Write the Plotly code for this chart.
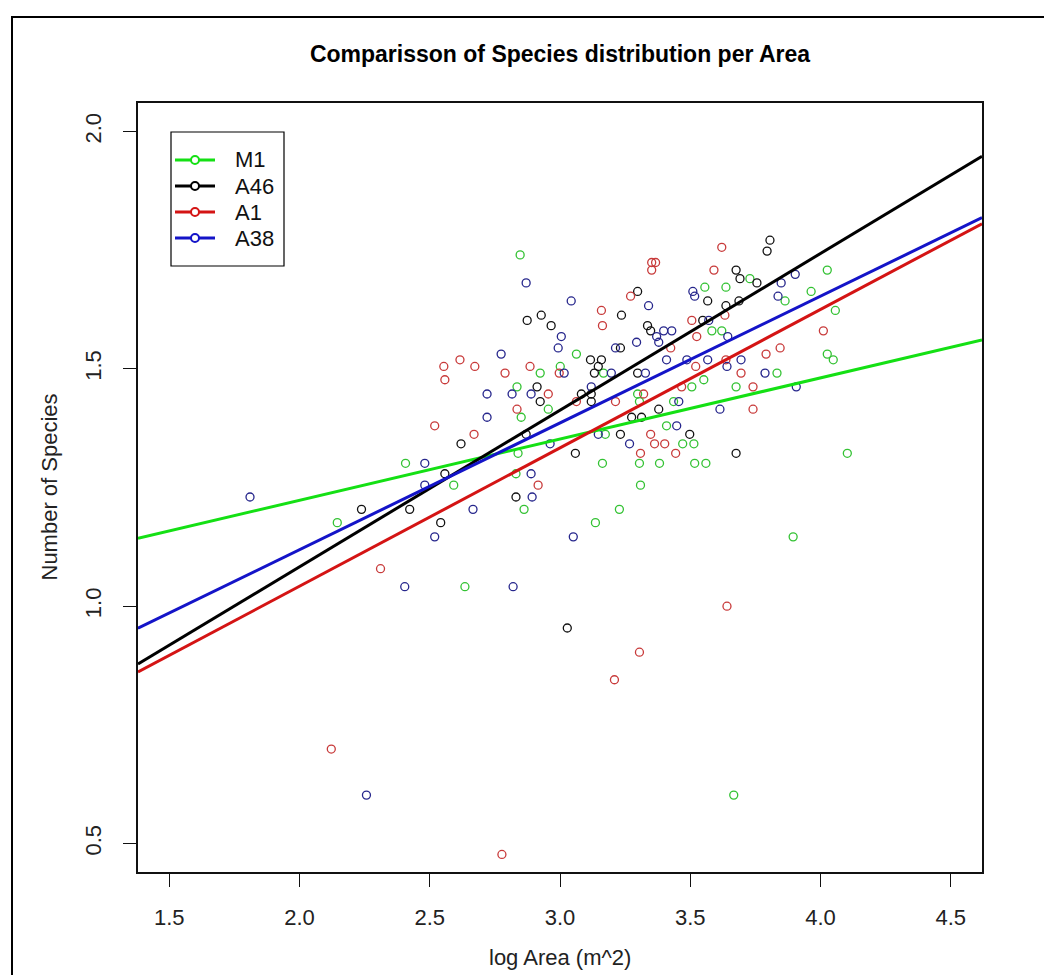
import plotly.graph_objects as go

# ---------------- data ----------------
groups = ["M1", "A46", "A1", "A38"]

m1_x = [2.847, 3.063, 2.924, 3.001, 2.835, 2.955, 2.851, 3.167, 3.298, 3.305, 3.409, 3.436,
        3.174, 3.556, 3.637, 3.583, 3.621, 3.506, 3.552, 2.407, 2.592, 2.145, 2.635, 3.471,
        3.514, 2.839, 3.163, 3.305, 3.382, 3.517, 3.560, 2.831, 3.309, 2.862, 3.228, 3.136,
        3.729, 4.026, 3.864, 3.964, 4.057, 4.026, 4.049, 3.833, 3.676, 4.103, 3.895, 3.667]
m1_y = [1.740, 1.531, 1.491, 1.505, 1.462, 1.415, 1.398, 1.491, 1.447, 1.431, 1.380, 1.431,
        1.362, 1.672, 1.672, 1.580, 1.580, 1.462, 1.477, 1.301, 1.255, 1.176, 1.041, 1.342,
        1.342, 1.322, 1.301, 1.301, 1.301, 1.301, 1.301, 1.279, 1.255, 1.204, 1.204, 1.176,
        1.690, 1.708, 1.643, 1.663, 1.623, 1.531, 1.519, 1.491, 1.462, 1.322, 1.146, 0.602]

a46_x = [2.620, 2.558, 2.238, 2.423, 2.542, 2.874, 2.928, 2.966, 2.912, 2.924, 3.117, 3.159,
         3.147, 3.132, 3.120, 3.082, 3.120, 3.236, 3.298, 3.336, 3.348, 3.232, 3.298, 3.379,
         3.275, 3.313, 3.498, 3.232, 3.567, 3.548, 3.637, 2.870, 3.059, 2.831, 3.028, 3.806,
         3.795, 3.676, 3.691, 3.756, 3.687, 3.676]
a46_y = [1.342, 1.279, 1.204, 1.204, 1.176, 1.602, 1.613, 1.591, 1.462, 1.431, 1.519, 1.519,
         1.505, 1.491, 1.447, 1.447, 1.431, 1.613, 1.663, 1.591, 1.580, 1.544, 1.491, 1.415,
         1.398, 1.398, 1.362, 1.362, 1.643, 1.602, 1.633, 1.362, 1.322, 1.230, 0.954, 1.771,
         1.748, 1.708, 1.690, 1.681, 1.643, 1.322]

a1_x = [2.554, 2.616, 2.673, 2.558, 2.519, 2.670, 2.311, 2.885, 2.789, 2.997, 2.955, 2.835,
        3.063, 3.159, 3.163, 3.271, 3.352, 3.367, 3.352, 3.425, 3.213, 3.321, 3.348, 3.621,
        3.591, 3.506, 3.633, 3.525, 3.521, 3.467, 3.637, 3.363, 3.402, 3.309, 3.444, 2.916,
        3.641, 4.011, 3.791, 3.845, 3.695, 3.741, 3.741, 2.122, 2.777, 3.209, 3.305]
a1_y = [1.505, 1.519, 1.505, 1.477, 1.380, 1.362, 1.079, 1.505, 1.491, 1.491, 1.447, 1.415,
        1.431, 1.623, 1.591, 1.653, 1.724, 1.724, 1.708, 1.544, 1.431, 1.447, 1.362, 1.756,
        1.708, 1.602, 1.613, 1.568, 1.505, 1.462, 1.519, 1.342, 1.342, 1.322, 1.322, 1.255,
        1.000, 1.580, 1.531, 1.544, 1.491, 1.462, 1.415, 0.699, 0.477, 0.845, 0.903]

a38_x = [2.720, 2.720, 2.481, 2.481, 1.810, 2.666, 2.519, 2.404, 2.870, 3.043, 3.005, 2.993,
         2.774, 3.016, 2.816, 2.889, 3.197, 3.120, 3.340, 3.398, 3.429, 3.371, 3.379, 3.409,
         3.213, 3.294, 3.328, 3.448, 3.456, 3.147, 3.510, 3.517, 3.571, 3.644, 3.487, 3.567,
         3.614, 3.267, 2.962, 2.889, 2.893, 3.051, 2.820, 3.903, 3.849, 3.837, 3.695, 3.641,
         3.787, 3.907, 2.257]
a38_y = [1.447, 1.398, 1.301, 1.255, 1.230, 1.204, 1.146, 1.041, 1.681, 1.643, 1.568, 1.544,
         1.531, 1.491, 1.447, 1.447, 1.491, 1.462, 1.633, 1.580, 1.580, 1.568, 1.556, 1.519,
         1.544, 1.556, 1.491, 1.380, 1.431, 1.362, 1.663, 1.653, 1.602, 1.568, 1.519, 1.519,
         1.415, 1.342, 1.342, 1.279, 1.230, 1.146, 1.041, 1.699, 1.681, 1.653, 1.519, 1.505,
         1.491, 1.462, 0.602]

intercepts = [0.965, 0.423, 0.459, 0.585]
slopes = [0.129, 0.330, 0.2915, 0.267]

x_range = [1.38, 4.62]
y_range = [0.44, 2.06]
x_ticks = [1.5, 2.0, 2.5, 3.0, 3.5, 4.0, 4.5]
y_ticks = [0.5, 1.0, 1.5, 2.0]

# ---------------- styles ----------------
point_colors = ["#33c233", "#111111", "#c83a3a", "#26268c"]
line_colors = ["#14e014", "#000000", "#d41414", "#1414c8"]
FONT = "Arial, Liberation Sans, sans-serif"

W, H = 1052, 975
L, R, T, B = 130, 78, 95, 111
pw, ph = W - L - R, H - T - B

def pxx(px):
    return (px - L) / pw

def pxy(py):
    return (H - B - py) / ph

fig = go.Figure()

xs = [m1_x, a46_x, a1_x, a38_x]
ys = [m1_y, a46_y, a1_y, a38_y]
for g, xv, yv, c in zip(groups, xs, ys, point_colors):
    fig.add_trace(go.Scatter(
        x=xv, y=yv, mode="markers", name=g, showlegend=False, hoverinfo="skip",
        marker=dict(symbol="circle-open", size=8, color=c, line=dict(width=1.3, color=c)),
    ))

for g, a, b, c in zip(groups, intercepts, slopes, line_colors):
    fig.add_trace(go.Scatter(
        x=x_range, y=[a + b * x_range[0], a + b * x_range[1]],
        mode="lines", name=g + " fit", showlegend=False, hoverinfo="skip",
        line=dict(color=c, width=3),
    ))

# ---------------- legend (base-R style box) ----------------
LEG_L, LEG_T, LEG_R, LEG_B = 163, 124, 276, 258
ROW0, ROW_H = 152, 26
shapes = [
    dict(type="rect", xref="paper", yref="paper",
         x0=pxx(LEG_L), x1=pxx(LEG_R), y0=pxy(LEG_B), y1=pxy(LEG_T),
         line=dict(color="#000000", width=1.2), fillcolor="white", layer="above"),
]
annotations = []
for i, (g, c) in enumerate(zip(groups, line_colors)):
    yy = ROW0 + i * ROW_H
    shapes.append(dict(type="line", xref="paper", yref="paper",
                       x0=pxx(167), x1=pxx(207), y0=pxy(yy), y1=pxy(yy),
                       line=dict(color=c, width=3), layer="above"))
    shapes.append(dict(type="circle", xref="paper", yref="paper",
                       x0=pxx(183), x1=pxx(191), y0=pxy(yy + 4), y1=pxy(yy - 4),
                       line=dict(color=c, width=2), fillcolor="white", layer="above"))
    annotations.append(dict(text=g, xref="paper", yref="paper", x=pxx(225), y=pxy(yy),
                            xanchor="left", yanchor="middle", showarrow=False,
                            font=dict(family=FONT, size=22, color="#111111")))

annotations += [
    dict(text="log Area (m^2)", xref="paper", yref="paper",
         x=0.5, y=pxy(949), xanchor="center", yanchor="middle",
         showarrow=False, font=dict(family=FONT, size=22, color="#222222")),
    dict(text="Number of Species", xref="paper", yref="paper",
         x=pxx(41), y=0.5, xanchor="center", yanchor="middle",
         textangle=-90, showarrow=False,
         font=dict(family=FONT, size=22, color="#222222")),
]

# outer frame of the picture
shapes.append(dict(type="rect", xref="paper", yref="paper",
                   x0=pxx(4), y0=pxy(990), x1=pxx(1048), y1=pxy(9),
                   line=dict(color="#000000", width=2), fillcolor="rgba(0,0,0,0)",
                   layer="above"))

fig.update_layout(
    width=W, height=H, autosize=False,
    margin=dict(l=L, r=R, t=T, b=B),
    paper_bgcolor="white", plot_bgcolor="white",
    font=dict(family=FONT, size=20, color="#111111"),
    title=dict(text="<b>Comparisson of Species distribution per Area</b>",
               x=(L + pw / 2) / W, xref="container", xanchor="center",
               y=1 - 46 / H, yref="container", yanchor="middle",
               font=dict(family=FONT, size=23, color="#000000")),
    showlegend=False,
    xaxis=dict(range=x_range, tickvals=x_ticks, ticktext=[f"{v:.1f}" for v in x_ticks],
               showgrid=False, zeroline=False, showline=True, linecolor="#111111",
               linewidth=1.5, mirror=True, ticks="outside", ticklen=13, tickwidth=1.2,
               tickcolor="#111111", ticklabelstandoff=12,
               tickfont=dict(family=FONT, size=22, color="#222222")),
    yaxis=dict(range=y_range, tickvals=y_ticks, ticktext=[f"{v:.1f}" for v in y_ticks],
               showgrid=False, zeroline=False, showline=True, linecolor="#111111",
               linewidth=1.5, mirror=True, ticks="outside", ticklen=13, tickwidth=1.2,
               tickcolor="#111111", tickangle=-90, ticklabelstandoff=13,
               tickfont=dict(family=FONT, size=22, color="#222222")),
    annotations=annotations,
    shapes=shapes,
)

fig.write_html("out.html")
